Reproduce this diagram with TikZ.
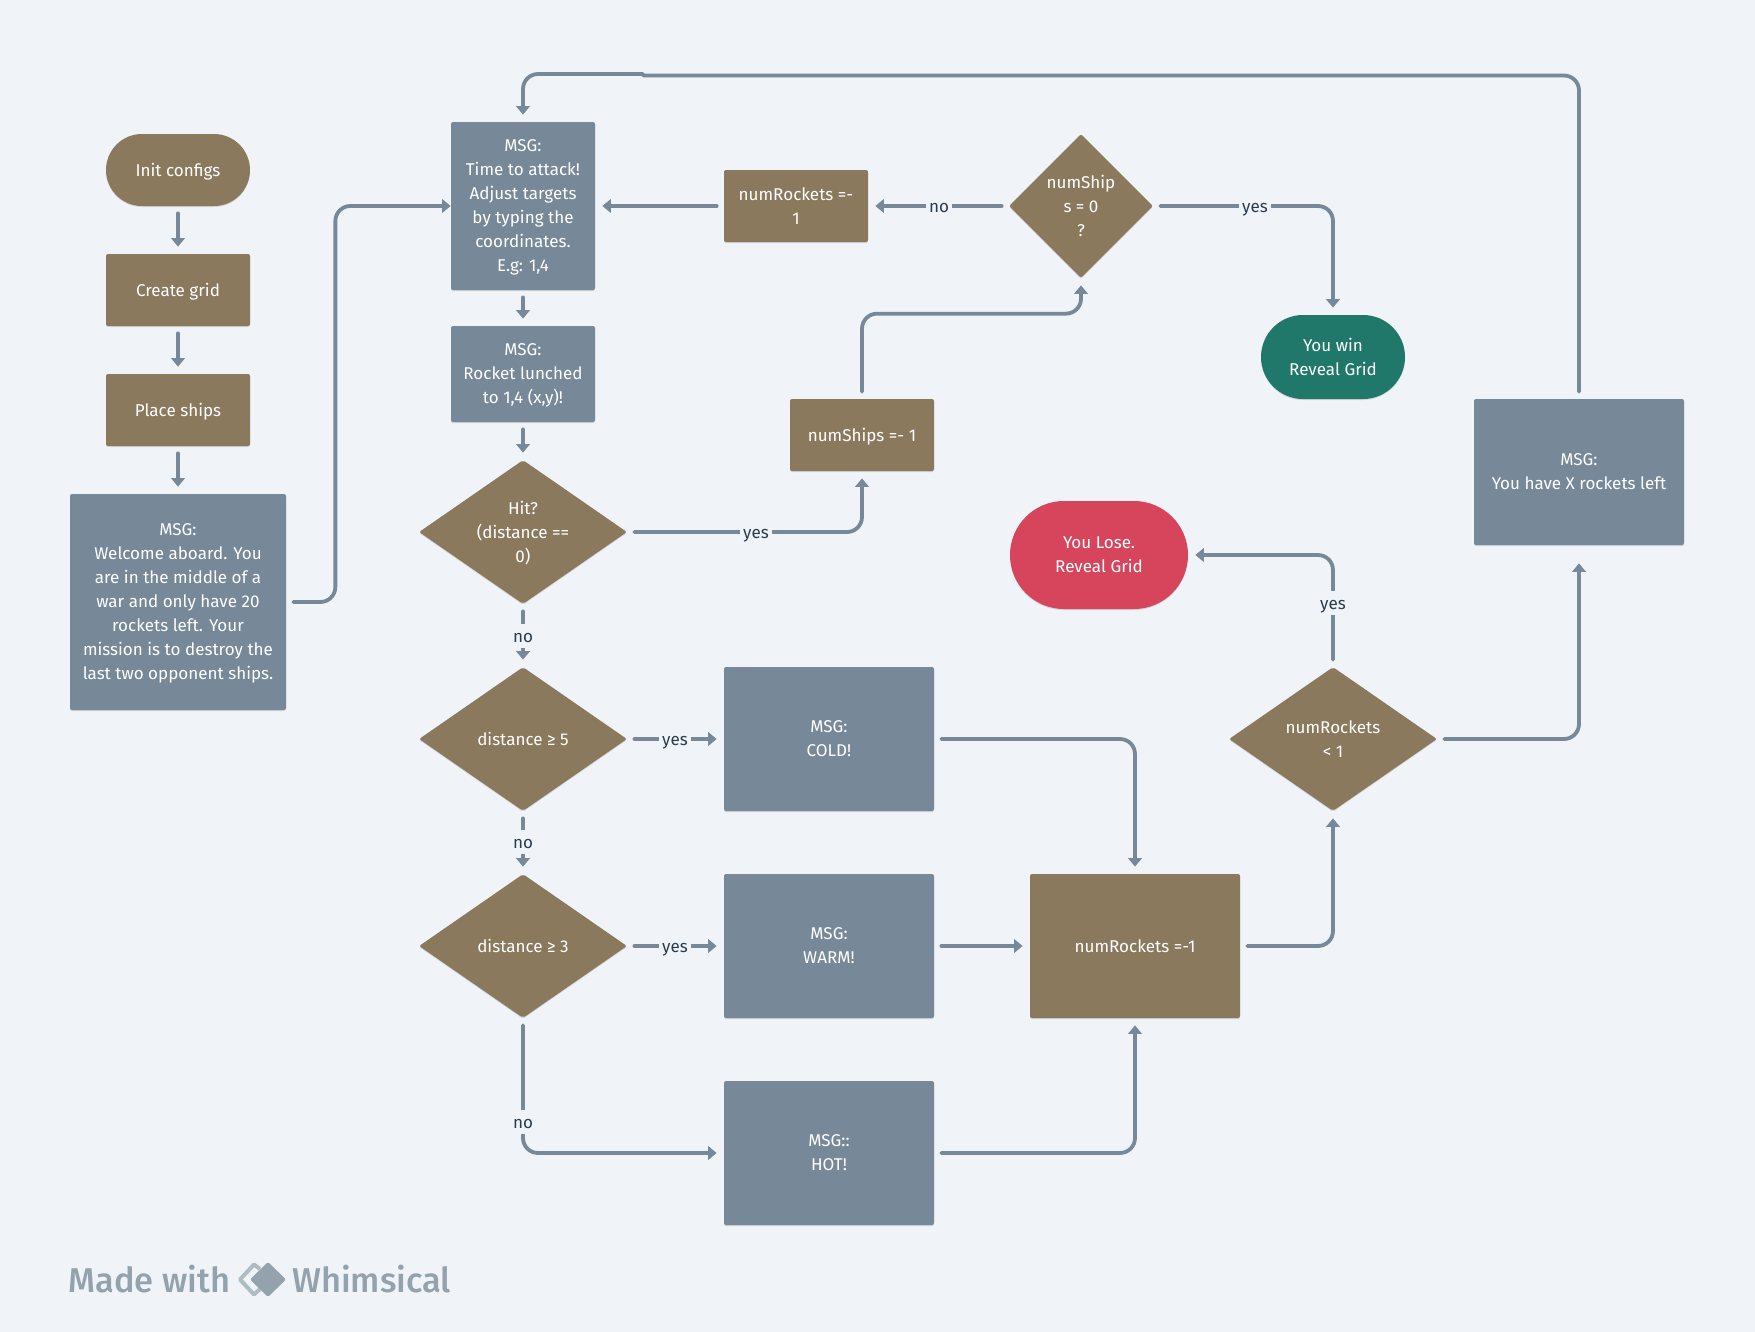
\documentclass[tikz,border=0pt]{standalone}
\usepackage{fontspec}
\setmainfont{Fira Sans}
\newfontfamily\markfont{Fira Sans Medium}
\usetikzlibrary{arrows.meta}
\usetikzlibrary{shapes.geometric}
\usetikzlibrary{shadows}
\definecolor{bgcol}{HTML}{F0F4F8}
\definecolor{slatecol}{HTML}{778899}
\definecolor{browncol}{HTML}{8B795E}
\definecolor{greencol}{HTML}{20786A}
\definecolor{redcol}{HTML}{D6455C}
\definecolor{labelcol}{HTML}{2A3B50}
\definecolor{markcol}{HTML}{94A2AD}
\def\px{0.02cm}
\tikzset{
    wh/.style 2 args={minimum width=#1*\px, minimum height=#2*\px},
    oneline/.style={text height=10.6pt, text depth=2.8pt},
    base/.style={text=white, inner sep=0pt, align=center, font=\fontsize{9.7}{13.66}\selectfont,
        text depth=0pt,
        general shadow={shadow yshift=-0.6pt, opacity=0.12, fill=black}},
    msgbox/.style={base, rectangle, fill=slatecol, rounded corners=2*\px},
    stepbox/.style={base, rectangle, fill=browncol, rounded corners=2*\px},
    decide/.style={base, diamond, fill=browncol, rounded corners=2*\px, aspect=#1},
    decide/.default=1.444,
    endbox/.style={base, rectangle, rounded corners=#1*\px},
    flow/.style={slatecol, line width=3.8*\px, line cap=round, rounded corners=15*\px,
        shorten <=7*\px, shorten >=7*\px, -{Triangle[length=0.17cm, width=0.27cm]}},
    lbl/.style={fill=bgcol, text=labelcol, inner xsep=3*\px, inner ysep=0pt,
        text height=18*\px, text depth=6*\px,
        font=\fontsize{9.7}{13.66}\selectfont},
    wmark/.style={text=markcol, font=\fontsize{19.6}{24}\markfont, anchor=base west, inner sep=0pt},
}
\begin{document}
\begin{tikzpicture}[x=0.02cm, y=-0.02cm]
    \useasboundingbox (0,0) rectangle (1755,1332);
    \fill [bgcol] (0,0) rectangle (1755,1332);

    % left column
    \node [endbox=36, oneline, fill=browncol, wh={144}{72}] (init) at (178,170) {Init configs};
    \node [stepbox, oneline, wh={144}{72}] (grid) at (178,290) {Create grid};
    \node [stepbox, oneline, wh={144}{72}] (place) at (178,410) {Place ships};
    \node [msgbox, wh={216}{216}] (welcome) at (178,602) {MSG:\\Welcome aboard. You\\are in the middle of a\\war and only have 20\\rockets left. Your\\mission is to destroy the\\last two opponent ships.};

    % middle column
    \node [msgbox, wh={144}{168}] (attack) at (523,206) {MSG:\\Time to attack!\\Adjust targets\\by typing the\\coordinates.\\E.g: 1,4};
    \node [msgbox, wh={144}{96}] (lunched) at (523,374) {MSG:\\Rocket lunched\\to 1,4 (x,y)!};
    \node [decide, wh={208}{144}] (hit) at (523,532) {Hit?\\(distance ==\\0)};
    \node [decide, oneline, wh={208}{144}] (far) at (523,739) {distance ≥ 5};
    \node [decide, oneline, wh={208}{144}] (near) at (523,946) {distance ≥ 3};

    \node [msgbox, wh={210}{144}] (cold) at (829,739) {MSG:\\COLD!};
    \node [msgbox, wh={210}{144}] (warm) at (829,946) {MSG:\\WARM!};
    \node [msgbox, wh={210}{144}] (hot) at (829,1153) {MSG::\\HOT!};

    % upper right
    \node [stepbox, wh={144}{72}] (rockets) at (796,206) {numRockets =-\\1};
    \node [stepbox, oneline, wh={144}{72}] (ships) at (862,435) {numShips =- 1};
    \node [decide=1, wh={144}{144}] (allsunk) at (1081,206) {numShip\\s = 0\\?};
    \node [endbox=42, fill=greencol, wh={144}{84}] (win) at (1333,357) {You win\\Reveal Grid};

    % lower right
    \node [stepbox, oneline, wh={210}{144}] (minus) at (1135,946) {numRockets =-1};
    \node [decide, wh={208}{144}] (left) at (1333,739) {numRockets\\< 1};
    \node [endbox=54, fill=redcol, wh={178}{108}] (lose) at (1099,555) {You Lose.\\Reveal Grid};
    \node [msgbox, wh={210}{146}] (remain) at (1579,472) {MSG:\\You have X rockets left};

    \coordinate (topa) at (643,75.5);
    \coordinate (topb) at (643,74);

    % straight arrows
    \draw [flow] (init) -- (grid);
    \draw [flow] (grid) -- (place);
    \draw [flow] (place) -- (welcome);
    \draw [flow] (attack) -- (lunched);
    \draw [flow] (lunched) -- (hit);
    \draw [flow] (hit) -- (far);
    \draw [flow] (far) -- (near);
    \draw [flow] (far) -- (cold);
    \draw [flow] (near) -- (warm);
    \draw [flow] (warm) -- (minus);
    \draw [flow] (rockets) -- (attack);
    \draw [flow] (allsunk) -- (rockets);

    % elbows
    \draw [flow, shorten >=0pt] (welcome.east) -- ++(49,0) |- (attack.west);
    \draw [flow] (hit.east) -| (ships.south);
    \draw [flow] (ships.north) -- ++(0,-85) -| (allsunk.south);
    \draw [flow] (allsunk.east) -| (win.north);
    \draw [flow] (near.south) |- (hot.west);
    \draw [flow] (cold.east) -| (minus.north);
    \draw [flow] (hot.east) -| (minus.south);
    \draw [flow] (minus.east) -| (left.south);
    \draw [flow] (left.north) |- (lose.east);
    \draw [flow, shorten >=18*\px] (left.east) -| (remain.south);
    \draw [flow, -, shorten >=0pt] (remain.north) |- (topa);
    \draw [flow, shorten <=0pt] (topb) -| (attack.north);

    % labels
    \node [lbl] (l1) at (756,532) {yes};
    \node [lbl] (l2) at (939,206) {no};
    \node [lbl] (l3) at (1255,206) {yes};
    \node [lbl] (l4) at (523,636) {no};
    \node [lbl] (l5) at (523,842) {no};
    \node [lbl] (l6) at (675,739) {yes};
    \node [lbl] (l7) at (675,946) {yes};
    \node [lbl] (l8) at (523,1122) {no};
    \node [lbl] (l9) at (1333,603) {yes};

    % watermark
    \node [wmark] (made) at (68,1292) {Made with};
    \draw [markcol!70!bgcol, line width=4*\px, line join=round] (260,1269) -- (254,1264.5) -- (240,1279.5) -- (254,1294.5) -- (260,1289);
    \fill [markcol, rounded corners=2*\px] (268,1262) -- (286,1279.5) -- (268,1297) -- (250,1279.5) -- cycle;
    \node [wmark] (brand) at (292,1292) {Whimsical};
\end{tikzpicture}
\end{document}
